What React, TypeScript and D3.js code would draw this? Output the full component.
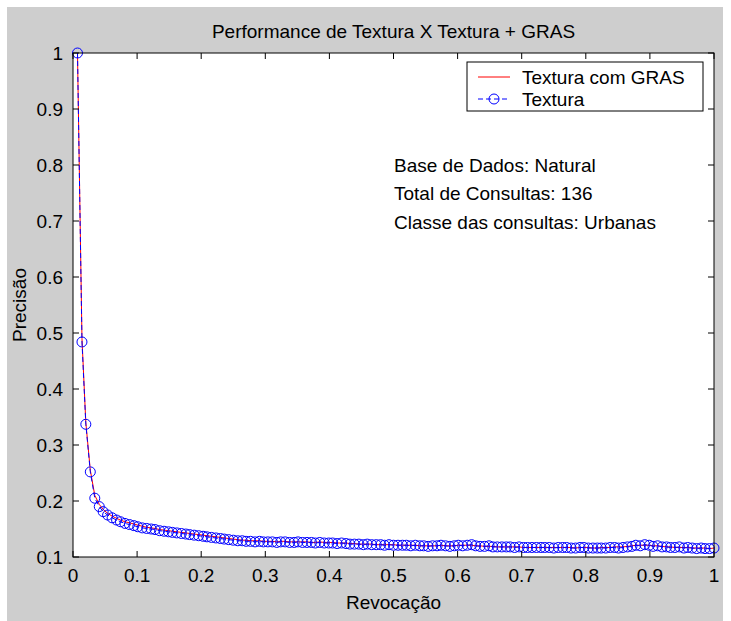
import React from "react";
import * as d3 from "d3";

const recall = [
  0.007, 0.014, 0.02, 0.027, 0.034, 0.041, 0.047, 0.054, 0.061, 0.068, 0.074, 0.081,
  0.088, 0.095, 0.101, 0.108, 0.115, 0.122, 0.128, 0.135, 0.142, 0.149, 0.155, 0.162,
  0.169, 0.176, 0.182, 0.189, 0.196, 0.203, 0.209, 0.216, 0.223, 0.23, 0.236, 0.243,
  0.25, 0.257, 0.264, 0.27, 0.277, 0.284, 0.291, 0.297, 0.304, 0.311, 0.318, 0.324,
  0.331, 0.338, 0.345, 0.351, 0.358, 0.365, 0.372, 0.378, 0.385, 0.392, 0.399, 0.405,
  0.412, 0.419, 0.426, 0.432,
  0.439, 0.446, 0.453, 0.459, 0.466, 0.473, 0.48, 0.486, 0.493, 0.5, 0.507, 0.514,
  0.52, 0.527, 0.534, 0.541, 0.547, 0.554, 0.561, 0.568, 0.574, 0.581, 0.588, 0.595,
  0.601, 0.608, 0.615, 0.622, 0.628, 0.635, 0.642, 0.649, 0.655, 0.662, 0.669, 0.676,
  0.682, 0.689, 0.696, 0.703, 0.709, 0.716, 0.723, 0.73, 0.736, 0.743, 0.75, 0.757,
  0.764, 0.77, 0.777, 0.784, 0.791, 0.797, 0.804, 0.811, 0.818, 0.824, 0.831, 0.838,
  0.845, 0.851, 0.858, 0.865, 0.872, 0.878, 0.885, 0.892, 0.899, 0.905, 0.912, 0.919,
  0.926, 0.932, 0.939, 0.946, 0.953, 0.959, 0.966, 0.973, 0.98, 0.986, 0.993, 1.0,
];

const precisionTextura = [
  1.0, 0.484, 0.337, 0.252, 0.205, 0.19, 0.181, 0.175, 0.17, 0.166, 0.163, 0.16,
  0.158, 0.156, 0.154, 0.152, 0.151, 0.15, 0.149, 0.147, 0.146, 0.145, 0.144, 0.143,
  0.142, 0.141, 0.14, 0.139, 0.138, 0.137, 0.136, 0.135, 0.134, 0.133, 0.132, 0.131,
  0.13, 0.129, 0.129, 0.128, 0.128, 0.127, 0.128, 0.127, 0.127, 0.127, 0.126, 0.127,
  0.127, 0.126, 0.126, 0.127, 0.126, 0.126, 0.126, 0.125, 0.126, 0.125, 0.125, 0.125,
  0.124, 0.125, 0.124, 0.123,
  0.123, 0.123, 0.122, 0.123, 0.122, 0.122, 0.122, 0.121, 0.122, 0.121, 0.121, 0.121,
  0.121, 0.12, 0.121, 0.12, 0.12, 0.119, 0.12, 0.12, 0.121, 0.12, 0.119, 0.12,
  0.121, 0.12, 0.121, 0.122, 0.12, 0.119, 0.119, 0.12, 0.118, 0.118, 0.118, 0.118,
  0.118, 0.117, 0.118, 0.117, 0.117, 0.117, 0.117, 0.117, 0.117, 0.117, 0.116, 0.117,
  0.117, 0.117, 0.116, 0.116, 0.117, 0.117, 0.116, 0.116, 0.116, 0.116, 0.116, 0.117,
  0.117, 0.116, 0.117, 0.118, 0.119, 0.121, 0.12, 0.122, 0.121, 0.119, 0.12, 0.118,
  0.118, 0.117, 0.117, 0.118, 0.116, 0.117, 0.116, 0.115, 0.116, 0.115, 0.115, 0.116,
];

const precisionGras = [
  1.0, 0.49, 0.34, 0.255, 0.21, 0.194, 0.185, 0.178, 0.173, 0.169, 0.166, 0.163,
  0.161, 0.159, 0.157, 0.155, 0.153, 0.152, 0.151, 0.149, 0.148, 0.147, 0.146, 0.145,
  0.144, 0.143, 0.142, 0.141, 0.14, 0.139, 0.138, 0.137, 0.136, 0.135, 0.134, 0.133,
  0.132, 0.131, 0.13, 0.13, 0.129, 0.129, 0.129, 0.128, 0.128, 0.128, 0.127, 0.128,
  0.128, 0.127, 0.127, 0.127, 0.127, 0.127, 0.126, 0.126, 0.127, 0.126, 0.126, 0.126,
  0.125, 0.125, 0.125, 0.124,
  0.124, 0.123, 0.123, 0.123, 0.123, 0.122, 0.122, 0.122, 0.122, 0.122, 0.121, 0.121,
  0.121, 0.121, 0.121, 0.12, 0.12, 0.12, 0.12, 0.12, 0.121, 0.12, 0.12, 0.12,
  0.121, 0.121, 0.121, 0.121, 0.12, 0.12, 0.119, 0.119, 0.119, 0.118, 0.118, 0.118,
  0.118, 0.118, 0.118, 0.117, 0.117, 0.117, 0.117, 0.117, 0.117, 0.117, 0.117, 0.117,
  0.117, 0.117, 0.117, 0.116, 0.117, 0.117, 0.117, 0.116, 0.116, 0.117, 0.117, 0.117,
  0.118, 0.118, 0.118, 0.119, 0.12, 0.121, 0.121, 0.121, 0.121, 0.12, 0.12, 0.119,
  0.118, 0.118, 0.117, 0.117, 0.117, 0.117, 0.116, 0.116, 0.116, 0.116, 0.115, 0.116,
];

const xTicks = [0, 0.1, 0.2, 0.3, 0.4, 0.5, 0.6, 0.7, 0.8, 0.9, 1];
const xTickLabels = ["0", "0.1", "0.2", "0.3", "0.4", "0.5", "0.6", "0.7", "0.8", "0.9", "1"];
const yTicks = [0.1, 0.2, 0.3, 0.4, 0.5, 0.6, 0.7, 0.8, 0.9, 1];
const yTickLabels = ["0.1", "0.2", "0.3", "0.4", "0.5", "0.6", "0.7", "0.8", "0.9", "1"];

const title = "Performance de Textura X Textura + GRAS";
const xLabel = "Revocação";
const yLabel = "Precisão";
const legendNames = ["Textura com GRAS", "Textura"];
const notes = ["Base de Dados: Natural", "Total de Consultas: 136", "Classe das consultas: Urbanas"];

const W = 731;
const H = 621;
const L = 73, R = 714, T = 53, B = 557;
const FONT = "'Liberation Sans', Arial, Helvetica, sans-serif";
const FS = 19;

export default function App() {
  const x = d3.scaleLinear().domain([0, 1]).range([L, R]);
  const y = d3.scaleLinear().domain([0.1, 1]).range([B, T]);
  const line = d3
    .line<number>()
    .x((_, i) => x(recall[i]))
    .y((d) => y(d));
  const tick = 6;

  return (
    <svg
      width={W}
      height={H}
      style={{ position: "absolute", left: 0, top: 0 }}
      fontFamily={FONT}
    >
      <rect x={0} y={0} width={W} height={H} fill="#ffffff" />
      <rect x={7} y={7} width={716} height={H - 7} fill="#cecece" />
      <rect x={L} y={T} width={R - L} height={B - T} fill="#ffffff" />

      {/* data */}
      <path d={line(precisionGras) || ""} fill="none" stroke="#ff0000" strokeWidth={1} />
      <path
        d={line(precisionTextura) || ""}
        fill="none"
        stroke="#0000ff"
        strokeWidth={1}
        strokeDasharray="5,3"
      />
      {precisionTextura.map((p, i) => (
        <circle key={i} cx={x(recall[i])} cy={y(p)} r={5} fill="none" stroke="#0000ff" strokeWidth={1} />
      ))}

      {/* axes box */}
      <rect x={L} y={T} width={R - L} height={B - T} fill="none" stroke="#000" strokeWidth={1} />
      {xTicks.map((t, i) => (
        <g key={"xt" + i}>
          <line x1={x(t)} x2={x(t)} y1={B} y2={B - tick} stroke="#000" />
          <line x1={x(t)} x2={x(t)} y1={T} y2={T + tick} stroke="#000" />
          <text x={x(t)} y={B + 25} textAnchor="middle" fontSize={FS} fill="#000">
            {xTickLabels[i]}
          </text>
        </g>
      ))}
      {yTicks.map((t, i) => (
        <g key={"yt" + i}>
          <line x1={L} x2={L + tick} y1={y(t)} y2={y(t)} stroke="#000" />
          <line x1={R} x2={R - tick} y1={y(t)} y2={y(t)} stroke="#000" />
          <text x={L - 10} y={y(t)} dy="0.35em" textAnchor="end" fontSize={FS} fill="#000">
            {yTickLabels[i]}
          </text>
        </g>
      ))}

      {/* labels */}
      <text x={(L + R) / 2} y={T - 15} textAnchor="middle" fontSize={FS} fill="#000">
        {title}
      </text>
      <text x={(L + R) / 2} y={B + 52} textAnchor="middle" fontSize={FS} fill="#000">
        {xLabel}
      </text>
      <text
        transform={`translate(${26},${(T + B) / 2}) rotate(-90)`}
        textAnchor="middle"
        fontSize={FS}
        fill="#000"
      >
        {yLabel}
      </text>

      {/* notes */}
      {notes.map((n, i) => (
        <text key={"n" + i} x={394} y={165 + i * 28.5} dy="0.35em" fontSize={FS} fill="#000">
          {n}
        </text>
      ))}

      {/* legend */}
      <rect x={467} y={62} width={236} height={49} fill="#ffffff" stroke="#000" strokeWidth={1} />
      <line x1={478} x2={510} y1={77} y2={77} stroke="#ff0000" />
      <text x={522} y={77} dy="0.35em" fontSize={FS} fill="#000">
        {legendNames[0]}
      </text>
      <line x1={478} x2={510} y1={99} y2={99} stroke="#0000ff" strokeDasharray="5,3" />
      <circle cx={494} cy={99} r={5} fill="none" stroke="#0000ff" />
      <text x={522} y={99} dy="0.35em" fontSize={FS} fill="#000">
        {legendNames[1]}
      </text>
    </svg>
  );
}
